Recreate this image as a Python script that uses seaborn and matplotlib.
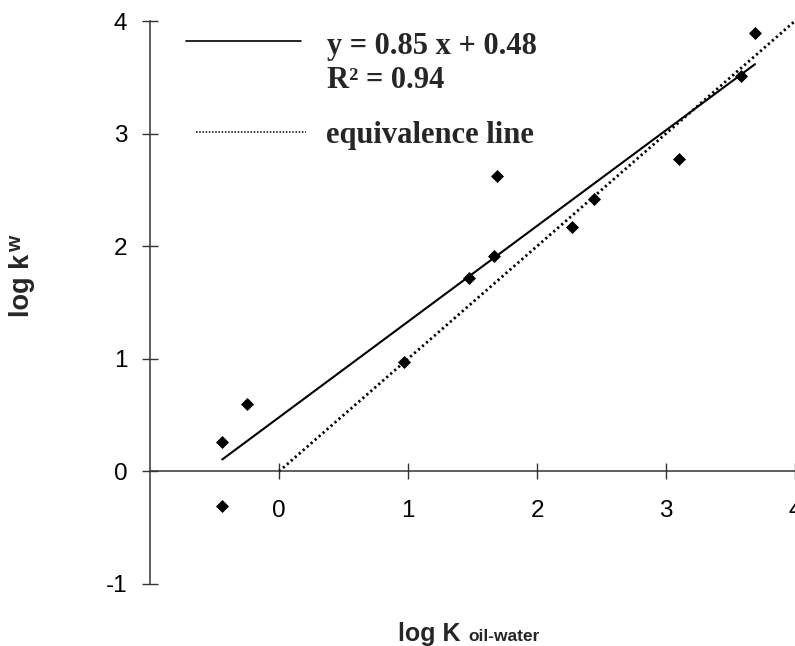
import seaborn as sns
import pandas as pd
import numpy as np
import matplotlib.pyplot as plt

# log K oil-water (x) vs log kw (y)
log_k_oil_water = [-0.44, -0.44, -0.25, 0.97, 1.47, 1.67, 1.69, 2.27, 2.44, 3.10, 3.58, 3.69]
log_kw = [0.26, -0.31, 0.60, 0.97, 1.72, 1.91, 2.62, 2.17, 2.42, 2.77, 3.51, 3.89]

# regression printed on the chart
slope = 0.85
intercept = 0.48
r2 = 0.94

# equivalence line y = x
equiv = [0, 4]

x_ticks = [0, 1, 2, 3, 4]
y_ticks = [-1, 0, 1, 2, 3, 4]

df = pd.DataFrame({"logK": log_k_oil_water, "logkw": log_kw})
fit = pd.DataFrame({"x": [min(log_k_oil_water), max(log_k_oil_water)]})
fit["y"] = slope * fit["x"] + intercept
eq = pd.DataFrame({"x": equiv, "y": equiv})

sns.set_style("white")
plt.rcParams["font.family"] = ["Liberation Sans", "DejaVu Sans"]
plt.rcParams["axes.unicode_minus"] = False

fig = plt.figure(figsize=(7.95, 6.46), dpi=100)
ax = fig.add_axes([150 / 795, 62 / 646, 645 / 795, 563 / 646])

# equivalence line (dotted) and regression line (solid)
sns.lineplot(eq, x="x", y="y", ax=ax, color="black", linewidth=2.0,
             linestyle=(0, (0.8, 1.1)), clip_on=False)
sns.lineplot(fit, x="x", y="y", ax=ax, color="black", linewidth=1.5)

# data points
sns.scatterplot(df, x="logK", y="logkw", ax=ax, marker="D", s=44,
                color="black", edgecolor="black", linewidth=0, zorder=3)

ax.set_xlim(-1, 4)
ax.set_ylim(-1, 4)
ax.set_xticks(x_ticks)
ax.set_yticks(y_ticks)
ax.set_xlabel("")
ax.set_ylabel("")

ax.spines["top"].set_visible(False)
ax.spines["right"].set_visible(False)
ax.spines["bottom"].set_position(("data", 0))
for s in ["left", "bottom"]:
    ax.spines[s].set_color("#333333")
    ax.spines[s].set_linewidth(1.1)

ax.tick_params(bottom=True, left=True, direction="inout", length=11.5,
               width=1, color="#333333", labelsize=17.5, labelcolor="black")
ax.tick_params(axis="x", pad=15)
ax.tick_params(axis="y", pad=10.5)

# legend-like key drawn in axes coordinates
ax.plot([0.0557, 0.2337], [0.9645, 0.9645], transform=ax.transAxes,
        color="black", linewidth=1.2)
ax.plot([0.0712, 0.2415], [0.8028, 0.8028], transform=ax.transAxes,
        color="black", linewidth=1.1, linestyle=(0, (1, 1.1)))
key_font = dict(family=["Liberation Serif"], weight="bold", size=22,
                va="baseline", transform=ax.transAxes)
ax.text(0.275, 0.9414, f"y = {slope} x + {intercept}", **key_font)
ax.text(0.275, 0.881, f"R\u00b2 = {r2}", **key_font)
ax.text(0.273, 0.7833, "equivalence line", **key_font)

# axis titles with small subscripts
fig.text(398 / 795, 5 / 646, "log K", size=18, weight="bold", va="baseline")
fig.text(468 / 795, 5 / 646, "oil-water", size=12.5, weight="bold", va="baseline")
fig.text(29 / 795, (646 - 317) / 646, "log k", rotation=90, rotation_mode="anchor",
         ha="left", va="baseline", size=19.5, weight="bold")
fig.text(21 / 795, (646 - 252) / 646, "w", rotation=90, rotation_mode="anchor",
         ha="left", va="baseline", size=15, weight="bold")

fig.savefig("out.png", dpi=100)
